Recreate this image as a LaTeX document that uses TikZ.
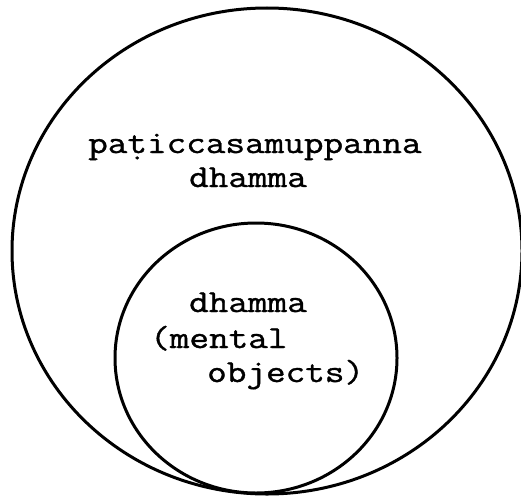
\documentclass[tikz,border=0pt]{standalone}
\usepackage{fontspec}
\newfontfamily\tw[FakeBold=1]{Latin Modern Mono}
\newcommand{\wide}[1]{\scalebox{1.19}[1]{#1}}
\begin{document}
\begin{tikzpicture}[x=1pt,y=-1pt,
  ring/.style={draw=black,line width=3pt},
  label/.style={anchor=base west,inner sep=0pt,font=\tw\fontsize{32pt}{35pt}\selectfont}]
\useasboundingbox (0,0) rectangle (521,495);
\fill[white] (0,0) rectangle (521,495);
% outer circle
\draw[ring] (267,251) ellipse [x radius=255, y radius=243];
% inner circle
\draw[ring] (256,358) ellipse [x radius=141, y radius=135];
% texts
\node[label] (t1) at (88,153) {\wide{pa\d{t}iccasamuppanna}};
\node[label] (t2) at (189,187) {\wide{dhamma}};
\node[label] (t3) at (189,312) {\wide{dhamma}};
\node[label] (t4) at (150,348) {\wide{(mental}};
\node[label] (t5) at (207,382) {\wide{objects)}};
\end{tikzpicture}
\end{document}
